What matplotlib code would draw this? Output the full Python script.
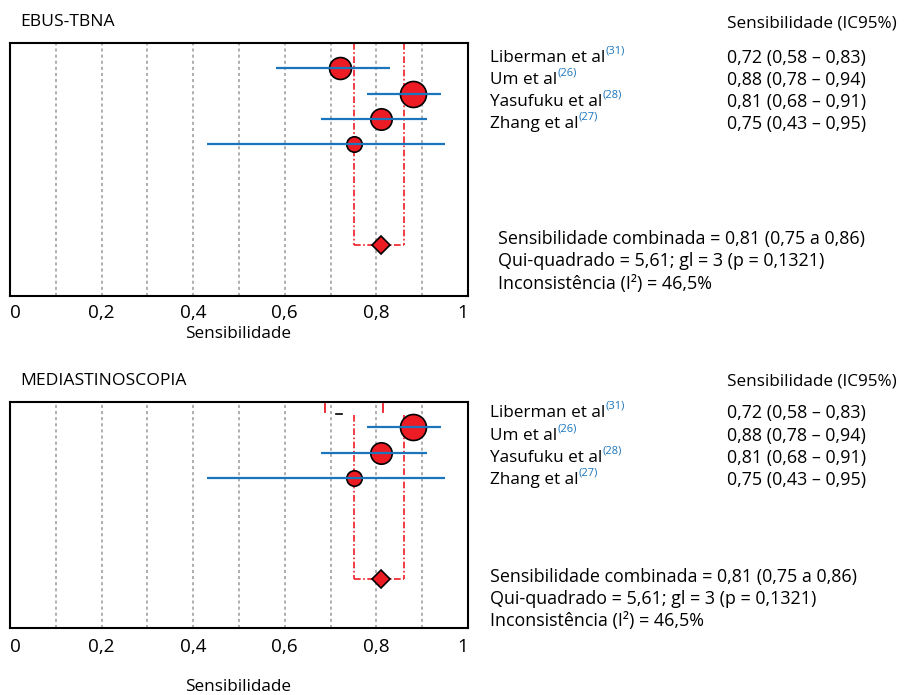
import matplotlib
matplotlib.use("Agg")
import matplotlib.pyplot as plt
from matplotlib.text import Annotation

plt.rcParams['font.family'] = ['Open Sans', 'DejaVu Sans']

# ---------------- data ----------------
studies = ["Liberman et al", "Um et al", "Yasufuku et al", "Zhang et al"]
refs = ["(31)", "(26)", "(28)", "(27)"]
sens = [0.72, 0.88, 0.81, 0.75]
ci_low = [0.58, 0.78, 0.68, 0.43]
ci_high = [0.83, 0.94, 0.91, 0.95]
weights = [15.8, 18.7, 15.4, 11.1]          # marker sizes (study weight)
value_labels = ["0,72 (0,58 \u2013 0,83)", "0,88 (0,78 \u2013 0,94)",
                "0,81 (0,68 \u2013 0,91)", "0,75 (0,43 \u2013 0,95)"]
pooled = 0.81
pooled_low = 0.75
pooled_high = 0.86
stats_lines = ["Sensibilidade combinada = 0,81 (0,75 a 0,86)",
               "Qui-quadrado = 5,61; gl = 3 (p = 0,1321)",
               "Inconsist\u00eancia (I\u00b2) = 46,5%"]
xticks = [0, 0.2, 0.4, 0.6, 0.8, 1]
xtick_labels = ["0", "0,2", "0,4", "0,6", "0,8", "1"]
grid_x = [0.1, 0.2, 0.3, 0.4, 0.5, 0.6, 0.7, 0.8, 0.9]
panel_titles = ["EBUS-TBNA", "MEDIASTINOSCOPIA"]
header = "Sensibilidade (IC95%)"
xlabel = "Sensibilidade"
# bottom panel small leftover marks near top
artifact_red_x = [0.688, 0.814]
artifact_black_x = [0.718]

W, H = 905, 695
fig = plt.figure(figsize=(W / 100, H / 100), dpi=100)

RED = "#ed1c24"
BLUE = "#1b75bc"
GREY = "#999999"
FS = 12.3
FS_BODY = 12.9


def fx(x):
    return x / W


def fy(y):
    return 1 - y / H


def make_axes(left, top, right, bottom):
    return fig.add_axes([fx(left), fy(bottom), (right - left) / W, (bottom - top) / H])


def draw_panel(ax, rows, pooled_row, ylim_bottom, dash_top, study_idx):
    ax.set_xlim(0, 1)
    ax.set_ylim(ylim_bottom, 0)
    for gx in grid_x:
        ax.axvline(gx, color=GREY, lw=1.1, ls=(0, (2, 2)), zorder=1)
    ls = (0, (4, 1.5, 1, 1.5))
    ax.plot([pooled_low, pooled_low], [dash_top, pooled_row], color=RED, lw=1.2, ls=ls, zorder=2)
    ax.plot([pooled_high, pooled_high], [dash_top, pooled_row], color=RED, lw=1.2, ls=ls, zorder=2)
    ax.plot([pooled_low, pooled_high], [pooled_row, pooled_row], color=RED, lw=1.2, ls=ls, zorder=2)
    for i, r in zip(study_idx, rows):
        ax.plot(sens[i], r, 'o', ms=weights[i], mfc=RED, mec='black', mew=1.2, zorder=3)
        ax.plot([ci_low[i], ci_high[i]], [r, r], color=BLUE, lw=1.6, zorder=4,
                solid_capstyle='butt')
    ax.plot(pooled, pooled_row, 'D', ms=9.6, mfc=RED, mec='black', mew=1.2, zorder=5)
    for s in ax.spines.values():
        s.set_linewidth(1.5)
        s.set_color('black')
    ax.set_xticks([])
    ax.set_yticks([])


def tick_labels(y_px):
    ax_left, ax_right = 10, 468
    for t, lab in zip(xticks, xtick_labels):
        xp = ax_left + t * (ax_right - ax_left)
        ha = 'center'
        if t == 0:
            ha = 'left'
        elif t == 1:
            ha = 'right'
        fig.text(fx(xp), fy(y_px), lab, ha=ha, va='center', fontsize=13.6)


def right_text(header_y, name_x, name_ys, stats_x, stats_ys):
    fig.text(fx(727), fy(header_y), header, ha='left', va='center', fontsize=FS)
    for name, ref, val, y in zip(studies, refs, value_labels, name_ys):
        t = fig.text(fx(name_x), fy(y), name, ha='left', va='center', fontsize=FS)
        fig.add_artist(Annotation(ref, xy=(1.0, 0.62), xycoords=t, fontsize=8,
                                  color=BLUE, ha='left', va='bottom'))
        fig.text(fx(727), fy(y), val, ha='left', va='center', fontsize=FS_BODY)
    for line, y in zip(stats_lines, stats_ys):
        fig.text(fx(stats_x), fy(y), line, ha='left', va='center', fontsize=FS_BODY)


# ---------------- top panel ----------------
ax1 = make_axes(10, 43, 468, 296)
draw_panel(ax1, rows=[1, 2, 3, 4], pooled_row=8, ylim_bottom=10, dash_top=0,
           study_idx=[0, 1, 2, 3])
fig.text(fx(20), fy(22), panel_titles[0], ha='left', va='center', fontsize=12.6)
tick_labels(313)
fig.text(fx(238), fy(334), xlabel, ha='center', va='center', fontsize=FS)
right_text(23, 490, [58, 80, 102, 124], 498, [239, 261, 284])

# ---------------- bottom panel ----------------
ax2 = make_axes(10, 402, 468, 628)
draw_panel(ax2, rows=[1, 2, 3], pooled_row=7, ylim_bottom=8.95, dash_top=0.5,
           study_idx=[1, 2, 3])
for ax_ in artifact_red_x:
    ax2.plot([ax_, ax_], [0.08, 0.4], color=RED, lw=1.3, zorder=2)
for bx in artifact_black_x:
    ax2.plot([bx - 0.006, bx + 0.006], [0.47, 0.47], color='black', lw=1.2, zorder=2)
fig.text(fx(20), fy(381), panel_titles[1], ha='left', va='center', fontsize=12.6)
tick_labels(647)
fig.text(fx(238), fy(687), xlabel, ha='center', va='center', fontsize=FS)
right_text(382, 490, [413, 436, 458, 480], 490, [577, 599, 621])

fig.savefig("out.png", dpi=100)
